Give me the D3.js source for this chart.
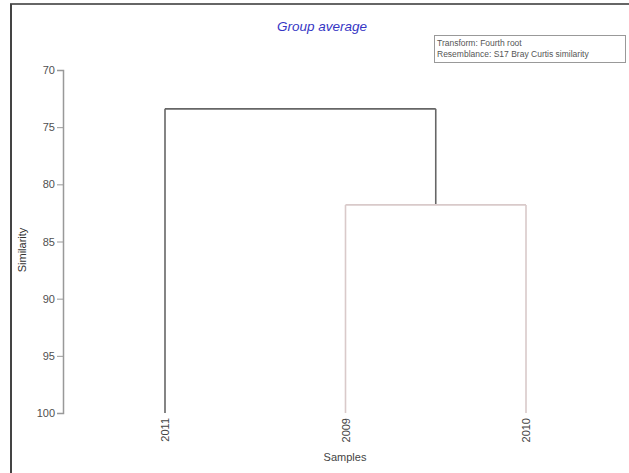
<!DOCTYPE html>
<html>
<head>
<meta charset="utf-8">
<script src="https://cdn.jsdelivr.net/npm/d3@7"></script>
<style>
  html, body { margin: 0; padding: 0; background: #fff; }
  svg { display: block; font-family: "Liberation Sans", Arial, sans-serif; }
</style>
</head>
<body>
<svg id="chart" width="629" height="473"></svg>
<script>
// Sample labels in leaf order
const samples = ["2011", "2009", "2010"];
// Merge steps: the two groups joined, the new group's name, and the similarity of the join
const mergeLeft = ["2009", "2011"];
const mergeRight = ["2010", "G1"];
const mergeName = ["G1", "G2"];
const mergeSimilarity = [81.8, 73.4];
// Axis ticks
const simTicks = [70, 75, 80, 85, 90, 95, 100];
const infoLines = ["Transform: Fourth root", "Resemblance: S17 Bray Curtis similarity"];

const svg = d3.select("#chart");

// Build the tree from the merge steps
const nodes = {};
samples.forEach(s => nodes[s] = { name: s, sim: 100 });
mergeName.forEach((n, i) => {
  nodes[n] = { name: n, sim: mergeSimilarity[i], children: [nodes[mergeLeft[i]], nodes[mergeRight[i]]] };
});
const root = d3.hierarchy(nodes[mergeName[mergeName.length - 1]]);

const x = d3.scalePoint().domain(samples).range([165, 526]);
const y = d3.scaleLinear().domain([70, 100]).range([70, 413]);

// Leaves sit on the point scale, each join sits midway between its outer children
root.eachAfter(d => {
  d.px = d.children ? (d.children[0].px + d.children[d.children.length - 1].px) / 2 : x(d.data.name);
  d.py = y(d.data.sim);
});

// Frame
svg.append("line").attr("x1", 10).attr("x2", 629).attr("y1", 4).attr("y2", 4)
  .attr("stroke", "#666").attr("stroke-width", 2);
svg.append("line").attr("x1", 11).attr("x2", 11).attr("y1", 4).attr("y2", 473)
  .attr("stroke", "#444").attr("stroke-width", 2);

// Title
svg.append("text").attr("x", 322).attr("y", 31).attr("text-anchor", "middle")
  .attr("font-size", 13.5).attr("font-style", "italic").attr("fill", "#3636c4")
  .text("Group average");

// Info box
const box = svg.append("g");
box.append("rect").attr("x", 434.5).attr("y", 35.5).attr("width", 191).attr("height", 27)
  .attr("fill", "#fff").attr("stroke", "#999");
box.selectAll("text").data(infoLines).join("text")
  .attr("x", 437).attr("y", (d, i) => 46 + i * 11)
  .attr("font-size", 8.5).attr("fill", "#555").text(d => d);

// Y axis
const axis = d3.axisLeft(y).tickValues(simTicks).tickSize(6).tickPadding(2);
const ag = svg.append("g").attr("transform", "translate(63,0)")
  .attr("color", "#555").call(axis);
ag.select(".domain").attr("stroke", "#999").attr("stroke-width", 1.5);
ag.selectAll(".tick line").attr("stroke", "#999");
ag.selectAll(".tick text").attr("font-size", 11).attr("fill", "#505050")
  .attr("font-family", "Liberation Sans, Arial, sans-serif");

svg.append("text").attr("transform", "translate(26,250) rotate(-90)")
  .attr("text-anchor", "middle").attr("font-size", 11).attr("fill", "#333").text("Similarity");

// Dendrogram: the top join is drawn dark, the lower group in a pale pink-grey
const dark = "#666", light = "#d9caca";
root.descendants().forEach(d => {
  if (!d.children) return;
  const col = d === root ? dark : light;
  svg.append("line")
    .attr("x1", d.children[0].px).attr("x2", d.children[d.children.length - 1].px)
    .attr("y1", d.py).attr("y2", d.py)
    .attr("stroke", col).attr("stroke-width", 1.6);
  d.children.forEach(c => {
    svg.append("line")
      .attr("x1", c.px).attr("x2", c.px).attr("y1", d.py).attr("y2", c.py)
      .attr("stroke", col).attr("stroke-width", 1.6);
  });
});

// Sample labels
svg.selectAll(".leaf").data(root.leaves()).join("text")
  .attr("class", "leaf")
  .attr("transform", d => `translate(${d.px + 4},${y(100) + 5}) rotate(-90)`)
  .attr("text-anchor", "end").attr("font-size", 11).attr("fill", "#444")
  .text(d => d.data.name);

svg.append("text").attr("x", 345).attr("y", 461).attr("text-anchor", "middle")
  .attr("font-size", 11).attr("fill", "#444").text("Samples");
</script>
</body>
</html>
